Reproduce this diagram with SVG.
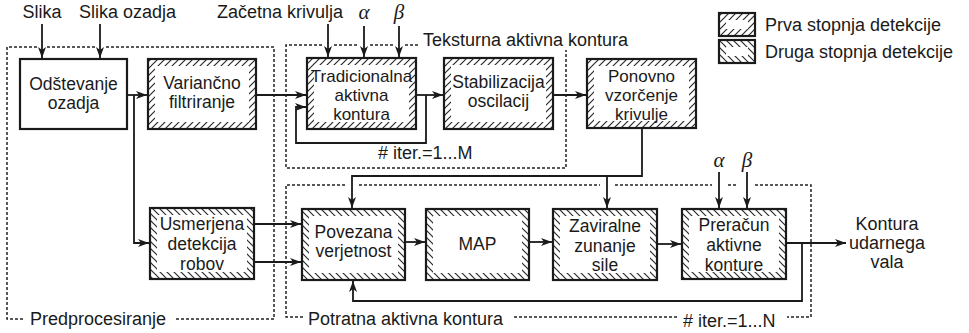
<svg xmlns="http://www.w3.org/2000/svg" width="969" height="333" viewBox="0 0 969 333">
<defs>
<pattern id="h1" patternUnits="userSpaceOnUse" width="7" height="7">
<path d="M0,7 L7,0 M-1,1 L1,-1 M6,8 L8,6" stroke="#2a2a2a" stroke-width="1.2"/>
</pattern>
<pattern id="h2" patternUnits="userSpaceOnUse" width="7" height="7">
<path d="M0,0 L7,7 M-1,6 L1,8 M6,-1 L8,1" stroke="#2a2a2a" stroke-width="1.2"/>
</pattern>
<marker id="ar" markerUnits="userSpaceOnUse" markerWidth="12" markerHeight="9" refX="11" refY="4" orient="auto">
<path d="M0,0 L11,4 L0,8 L3,4 z" fill="#1a1a1a"/>
</marker>
<style>
.t{font-family:"Liberation Sans",Arial,sans-serif;font-size:17.5px;fill:#1a1a1a;text-anchor:middle}
.t3{font-family:"Liberation Sans",Arial,sans-serif;font-size:17px;fill:#1a1a1a;text-anchor:middle}
.ts{font-family:"Liberation Sans",Arial,sans-serif;font-size:18px;fill:#1a1a1a}
.tc{font-family:"Liberation Sans",Arial,sans-serif;font-size:18px;fill:#1a1a1a;text-anchor:middle}
.g{font-family:"Liberation Serif","Times New Roman",serif;font-style:italic;font-size:21px;fill:#1a1a1a;text-anchor:middle}
.b{fill:none;stroke:#1a1a1a;stroke-width:2.2}
.w{fill:#fff}
.c{fill:none;stroke:#1a1a1a;stroke-width:1.8;marker-end:url(#ar)}
.d{fill:none;stroke:#222;stroke-width:1.5;stroke-dasharray:3 2}
</style>
</defs>
<rect width="969" height="333" fill="#fff"/>

<g id="frames">
<path class="d" d="M37,47 H7 V319 H23"/>
<path class="d" d="M47,47 H95"/>
<path class="d" d="M106,47 H274 V319 H174"/>
<path class="d" d="M322,45 H286 V168 H566 V50"/>
<path class="d" d="M334,45 H358"/>
<path class="d" d="M370,45 H393"/>
<path class="d" d="M405,45 H418"/>
<path class="d" d="M345,185 H286 V317 H304"/>
<path class="d" d="M359,185 H600"/>
<path class="d" d="M615,185 H712"/>
<path class="d" d="M728,185 H738"/>
<path class="d" d="M755,185 H811 V317 H787"/>
<path class="d" d="M514,317 H679"/>
<text class="ts" x="30" y="325">Predprocesiranje</text>
<text class="ts" x="423" y="46">Teksturna aktivna kontura</text>
<text class="ts" x="308" y="325">Potratna aktivna kontura</text>
<text class="ts" x="683" y="327"># iter.=1...N</text>
<text class="ts" x="378" y="159"># iter.=1...M</text>
</g>

<g id="legend">
<path d="M719,13 h36 v23 h-36 z M726,20 v9 h22 v-9 z" fill="url(#h1)" fill-rule="evenodd"/>
<rect class="b" x="719" y="13" width="36" height="23" stroke-width="1.8"/>
<path d="M719,40 h36 v23 h-36 z M726,47 v9 h22 v-9 z" fill="url(#h2)" fill-rule="evenodd"/>
<rect class="b" x="719" y="40" width="36" height="23" stroke-width="1.8"/>
<text class="ts" x="765" y="31">Prva stopnja detekcije</text>
<text class="ts" x="765" y="58">Druga stopnja detekcije</text>
</g>

<g id="inputs">
<text class="tc" x="42" y="18">Slika</text>
<text class="ts" x="79" y="18">Slika ozadja</text>
<text class="tc" x="280" y="18">Začetna krivulja</text>
<text class="g" x="364" y="19">α</text>
<text class="g" x="399" y="19">β</text>
<text class="g" x="719" y="167">α</text>
<text class="g" x="747" y="167">β</text>
</g>

<g id="connectors">
<path class="c" d="M42,24 V58"/>
<path class="c" d="M100,24 V58"/>
<path class="c" d="M328,24 V57"/>
<path class="c" d="M364,26 V57"/>
<path class="c" d="M399,26 V57"/>
<path class="c" d="M127,95 H147"/>
<path class="c" d="M134,95 V243 H149"/>
<path class="c" d="M256,95 H306"/>
<path class="c" d="M416,95 H443"/>
<path class="c" d="M426,95 V143 H296 V107 H306"/>
<path class="c" d="M553,95 H586"/>
<path class="c" d="M642,128 V176 H352 V208"/>
<path class="c" d="M607,176 V208"/>
<path class="c" d="M254,224 H301"/>
<path class="c" d="M254,262 H301"/>
<path class="c" d="M405,242 H425"/>
<path class="c" d="M529,242 H552"/>
<path class="c" d="M657,244 H681"/>
<path class="c" d="M719,172 V208"/>
<path class="c" d="M747,172 V208"/>
<path class="c" d="M786,243 H846"/>
<path class="c" d="M802,243 V301 H353 V281"/>
</g>

<g id="odstevanje">
<rect class="b w" x="20" y="59" width="107" height="70"/>
<text class="t" x="73.5" y="90">Odštevanje</text>
<text class="t" x="73.5" y="109">ozadja</text>
</g>
<g id="variancno">
<rect class="w" x="148" y="59" width="108" height="70"/>
<path d="M148,59 h108 v70 h-108 z M155,66 v56 h94 v-56 z" fill="url(#h1)" fill-rule="evenodd"/>
<rect class="b" x="148" y="59" width="108" height="70"/>
<text class="t" x="202" y="89">Variančno</text>
<text class="t" x="202" y="108">filtriranje</text>
</g>
<g id="tradicionalna">
<rect class="w" x="307" y="58" width="109" height="71"/>
<path d="M307,58 h109 v71 h-109 z M314,65 v57 h95 v-57 z" fill="url(#h1)" fill-rule="evenodd"/>
<rect class="b" x="307" y="58" width="109" height="71"/>
<text class="t3" x="361.5" y="82">Tradicionalna</text>
<text class="t3" x="361.5" y="101">aktivna</text>
<text class="t3" x="361.5" y="120">kontura</text>
</g>
<g id="stabilizacija">
<rect class="w" x="444" y="58" width="109" height="71"/>
<path d="M444,58 h109 v71 h-109 z M451,65 v57 h95 v-57 z" fill="url(#h1)" fill-rule="evenodd"/>
<rect class="b" x="444" y="58" width="109" height="71"/>
<text class="t" x="498.5" y="88">Stabilizacija</text>
<text class="t" x="498.5" y="107">oscilacij</text>
</g>
<g id="ponovno">
<rect class="w" x="587" y="59" width="109" height="69"/>
<path d="M587,59 h109 v69 h-109 z M594,66 v55 h95 v-55 z" fill="url(#h1)" fill-rule="evenodd"/>
<rect class="b" x="587" y="59" width="109" height="69"/>
<text class="t3" x="641.5" y="82">Ponovno</text>
<text class="t3" x="641.5" y="101">vzorčenje</text>
<text class="t3" x="641.5" y="120">krivulje</text>
</g>
<g id="usmerjena">
<rect class="w" x="150" y="208" width="104" height="71"/>
<path d="M150,208 h104 v71 h-104 z M157,215 v57 h90 v-57 z" fill="url(#h2)" fill-rule="evenodd"/>
<rect class="b" x="150" y="208" width="104" height="71"/>
<text class="t" x="202" y="230">Usmerjena</text>
<text class="t" x="202" y="250">detekcija</text>
<text class="t" x="202" y="270">robov</text>
</g>
<g id="povezana">
<rect class="w" x="302" y="209" width="103" height="71"/>
<path d="M302,209 h103 v71 h-103 z M309,216 v57 h89 v-57 z" fill="url(#h2)" fill-rule="evenodd"/>
<rect class="b" x="302" y="209" width="103" height="71"/>
<text class="t" x="353.5" y="238">Povezana</text>
<text class="t" x="353.5" y="257">verjetnost</text>
</g>
<g id="map">
<rect class="w" x="426" y="209" width="103" height="71"/>
<path d="M426,209 h103 v71 h-103 z M433,216 v57 h89 v-57 z" fill="url(#h2)" fill-rule="evenodd"/>
<rect class="b" x="426" y="209" width="103" height="71"/>
<text class="t" x="477.5" y="250">MAP</text>
</g>
<g id="zaviralne">
<rect class="w" x="553" y="209" width="104" height="71"/>
<path d="M553,209 h104 v71 h-104 z M560,216 v57 h90 v-57 z" fill="url(#h2)" fill-rule="evenodd"/>
<rect class="b" x="553" y="209" width="104" height="71"/>
<text class="t" x="605" y="232">Zaviralne</text>
<text class="t" x="605" y="252">zunanje</text>
<text class="t" x="605" y="271">sile</text>
</g>
<g id="preracun">
<rect class="w" x="682" y="209" width="104" height="70"/>
<path d="M682,209 h104 v70 h-104 z M689,216 v56 h90 v-56 z" fill="url(#h2)" fill-rule="evenodd"/>
<rect class="b" x="682" y="209" width="104" height="70"/>
<text class="t" x="734" y="231">Preračun</text>
<text class="t" x="734" y="251">aktivne</text>
<text class="t" x="734" y="271">konture</text>
</g>
<g id="izhod">
<text class="tc" x="887" y="230">Kontura</text>
<text class="tc" x="887" y="249">udarnega</text>
<text class="tc" x="887" y="268">vala</text>
</g>
</svg>
